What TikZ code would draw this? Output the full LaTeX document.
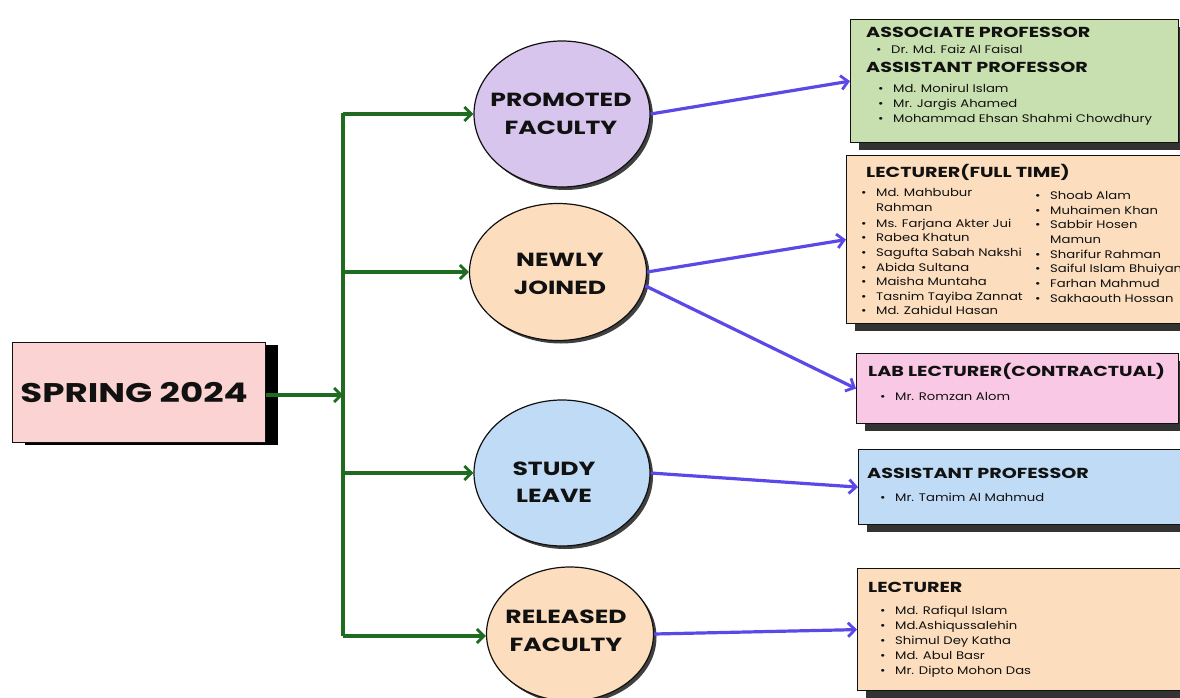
\documentclass[tikz,border=0pt]{standalone}
\usepackage{fontspec}
\setmainfont{Poppins}
\newfontfamily\widebold{Poppins}[FakeStretch=1.32]
\newfontfamily\widereg{Poppins}[FakeStretch=1.2]
\usetikzlibrary{arrows.meta,shapes.geometric,shadows}
\definecolor{ink}{HTML}{111111}
\definecolor{pinkbox}{HTML}{FBD3D3}
\definecolor{lav}{HTML}{D8C5EE}
\definecolor{peach}{HTML}{FCDEBE}
\definecolor{skyb}{HTML}{BFDBF5}
\definecolor{leaf}{HTML}{C8DFAF}
\definecolor{rose}{HTML}{F8C8E5}
\definecolor{arrblue}{HTML}{5B48E8}
\definecolor{trunkgreen}{HTML}{1F6B1F}
\newcommand\bul{\makebox[15pt][l]{•}}
\tikzset{
  boxnode/.style={draw=ink, line width=1.2pt, anchor=north west, inner sep=0,
    drop shadow={shadow xshift=8pt, shadow yshift=-7pt, fill=black!80, opacity=1}},
  ell/.style={ellipse, draw=ink, line width=1.2pt, inner sep=0,
    drop shadow={shadow xshift=3pt, shadow yshift=-3pt, fill=black!75, opacity=1}},
  elltext/.style={inner sep=0, text=ink, align=center,
    font=\widebold\fontsize{19}{27.5}\selectfont\bfseries},
  head/.style={anchor=base west, inner sep=0, text=ink, font=\widebold\fontsize{14.5}{17}\selectfont\bfseries},
  itm/.style={anchor=base west, inner sep=0, text=ink, align=left, font=\widereg\fontsize{11}{14.6}\selectfont},
  grn/.style={draw=trunkgreen, line width=3.2pt},
  grnarr/.style={grn, -{Straight Barb[length=7pt,width=14pt,line width=2.8pt]}},
  bluarr/.style={draw=arrblue, line width=3.2pt, -{Straight Barb[length=7pt,width=14pt,line width=2.8pt]}},
}
\begin{document}
\begin{tikzpicture}[x=1pt,y=-1pt]
\useasboundingbox (0,0) rectangle (1180,698);
\fill[white] (0,0) rectangle (1180,698);

% root
\node[draw=ink, line width=1.2pt, fill=pinkbox, minimum width=253pt, minimum height=100pt, inner sep=0,
  anchor=north west, font=\widebold\fontsize{27}{30}\selectfont\bfseries, text=ink,
  drop shadow={shadow xshift=12pt, shadow yshift=-2pt, fill=black, opacity=1}]
  (root) at (12,342) {SPRING 2024\hspace*{10pt}};

% ellipses
\node[ell, fill=lav,   minimum width=176pt, minimum height=146pt] (prom)  at (562,114) {};
\node[ell, fill=peach, minimum width=177pt, minimum height=137pt] (newj)  at (558,272) {};
\node[ell, fill=skyb,  minimum width=176pt, minimum height=146pt] (study) at (562,473) {};
\node[ell, fill=peach, minimum width=167pt, minimum height=134pt] (rel)   at (570,634) {};
\node[elltext] (promt)  at (561,114) {PROMOTED\\FACULTY};
\node[elltext] (newjt)  at (560,274) {NEWLY\\JOINED};
\node[elltext] (studyt) at (554,482) {STUDY\\LEAVE};
\node[elltext] (relt)   at (566,631) {RELEASED\\FACULTY};

% trunk
\coordinate (ttop) at (343,113);
\coordinate (tbot) at (343,636);
\coordinate (tmid) at (343,395);
\draw[grn] (ttop) -- (tbot);
\draw[grnarr] (root.east |- tmid) -- (tmid);
\draw[grnarr] (ttop |- prom.west) -- (prom.west);
\draw[grnarr] (ttop |- newj.west) -- (newj.west);
\draw[grnarr] (ttop |- study.west) -- (study.west);
\draw[grnarr] (tbot) -- (rel.west |- tbot);

% boxes
\node[boxnode, fill=leaf,  minimum width=328pt, minimum height=123pt] (b1) at (850,19) {};
\node[boxnode, fill=peach, minimum width=340pt, minimum height=168pt] (b2) at (846,155) {};
\node[boxnode, fill=rose,  minimum width=322pt, minimum height=70pt]  (b3) at (856,353) {};
\node[boxnode, fill=skyb,  minimum width=330pt, minimum height=75pt]  (b4) at (858,449) {};
\node[boxnode, fill=peach, minimum width=330pt, minimum height=122pt] (b5) at (857,568) {};

% blue arrows
\draw[bluarr] (prom.east) -- (b1.west);
\draw[bluarr] (newj.east) -- (b2.west);
\draw[bluarr] (newj.-9) -- (b3.west);
\draw[bluarr] (study.east) -- (b4.west);
\draw[bluarr] (rel.east) -- (b5.west);

% box 1
\node[head] (b1h1) at (866,38) {ASSOCIATE PROFESSOR};
\node[itm]  (b1i1) at (876,54) {\bul Dr. Md. Faiz Al Faisal};
\node[head] (b1h2) at (866,73) {ASSISTANT PROFESSOR};
\node[itm]  (b1i2) at (878,93) {\bul Md. Monirul Islam};
\node[itm]  (b1i3) at (878,108) {\bul Mr. Jargis Ahamed};
\node[itm]  (b1i4) at (878,123) {\bul Mohammad Ehsan Shahmi Chowdhury};

% box 2
\node[head] (b2h) at (866,177) {LECTURER(FULL TIME)};
\node[itm] (b2a1) at (861,211) {\bul Md. Mahbubur\\\hspace*{15pt}Rahman};
\node[itm] (b2a2) at (861,227) {\bul Ms. Farjana Akter Jui};
\node[itm] (b2a3) at (861,241) {\bul Rabea Khatun};
\node[itm] (b2a4) at (861,256) {\bul Sagufta Sabah Nakshi};
\node[itm] (b2a5) at (861,271) {\bul Abida Sultana};
\node[itm] (b2a6) at (861,285) {\bul Maisha Muntaha};
\node[itm] (b2a7) at (861,300) {\bul Tasnim Tayiba Zannat};
\node[itm] (b2a8) at (861,314) {\bul Md. Zahidul Hasan};
\node[itm] (b2b1) at (1035,199) {\bul Shoab Alam};
\node[itm] (b2b2) at (1035,214) {\bul Muhaimen Khan};
\node[itm] (b2b3) at (1035,243) {\bul Sabbir Hosen\\\hspace*{15pt}Mamun};
\node[itm] (b2b4) at (1035,258) {\bul Sharifur Rahman};
\node[itm] (b2b5) at (1035,272) {\bul Saiful Islam Bhuiyan};
\node[itm] (b2b6) at (1035,287) {\bul Farhan Mahmud};
\node[itm] (b2b7) at (1035,302) {\bul Sakhaouth Hossan};

% box 3
\node[head] (b3h) at (868,376) {LAB LECTURER(CONTRACTUAL)};
\node[itm]  (b3i) at (880,400) {\bul Mr. Romzan Alom};

% box 4
\node[head] (b4h) at (867,478) {ASSISTANT PROFESSOR};
\node[itm]  (b4i) at (880,501) {\bul Mr. Tamim Al Mahmud};

% box 5
\node[head] (b5h) at (868,592) {LECTURER};
\node[itm] (b5i1) at (880,614) {\bul Md. Rafiqul Islam};
\node[itm] (b5i2) at (880,629) {\bul Md.Ashiqussalehin};
\node[itm] (b5i3) at (880,644) {\bul Shimul Dey Katha};
\node[itm] (b5i4) at (880,659) {\bul Md. Abul Basr};
\node[itm] (b5i5) at (880,674) {\bul Mr. Dipto Mohon Das};
\end{tikzpicture}
\end{document}
